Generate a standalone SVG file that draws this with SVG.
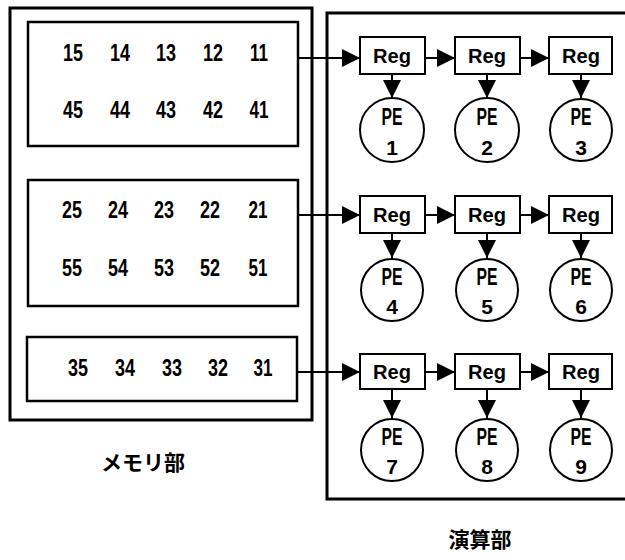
<svg xmlns="http://www.w3.org/2000/svg" width="625" height="560" viewBox="0 0 625 560">
<style>
.box{fill:none;stroke:#000;stroke-width:2.5}
.outer{fill:none;stroke:#000;stroke-width:3}
.reg{fill:#fff;stroke:#000;stroke-width:2}
.pe{fill:#fff;stroke:#000;stroke-width:2}
.num{font-family:"Liberation Sans",Arial,sans-serif;font-weight:bold;font-size:23px;text-anchor:middle}
.t{font-family:"Liberation Sans",Arial,sans-serif;font-weight:bold;font-size:21px;text-anchor:middle}
.p{font-family:"Liberation Sans",Arial,sans-serif;font-weight:bold;font-size:24px;text-anchor:middle}
.jp{font-family:"Noto Sans CJK JP",sans-serif;font-weight:bold;font-size:21px;text-anchor:middle}
.con{stroke:#000;stroke-width:2;fill:none;marker-end:url(#ah)}
</style>
<defs>
<marker id="ah" markerUnits="userSpaceOnUse" markerWidth="18" markerHeight="18" refX="18" refY="9" orient="auto">
<path d="M0,0 L18,9 L0,18 z" fill="#000"/>
</marker>
</defs>
<rect width="625" height="560" fill="#fff"/>

<g id="memory">
<rect class="outer" x="10" y="8" width="302" height="412"/>
<text class="jp" x="143" y="470">メモリ部</text>
</g>
<g id="mem1">
<rect class="box" x="28" y="22" width="270" height="124"/>
<g class="num">
<text x="73" y="61" textLength="20" lengthAdjust="spacingAndGlyphs">15</text><text x="120" y="61" textLength="20" lengthAdjust="spacingAndGlyphs">14</text><text x="166" y="61" textLength="20" lengthAdjust="spacingAndGlyphs">13</text><text x="213" y="61" textLength="20" lengthAdjust="spacingAndGlyphs">12</text><text x="259" y="61" textLength="18" lengthAdjust="spacingAndGlyphs">11</text>
<text x="73" y="118" textLength="20" lengthAdjust="spacingAndGlyphs">45</text><text x="120" y="118" textLength="20" lengthAdjust="spacingAndGlyphs">44</text><text x="166" y="118" textLength="20" lengthAdjust="spacingAndGlyphs">43</text><text x="213" y="118" textLength="20" lengthAdjust="spacingAndGlyphs">42</text><text x="259" y="118" textLength="19" lengthAdjust="spacingAndGlyphs">41</text>
</g>
</g>
<g id="mem2">
<rect class="box" x="28" y="180" width="270" height="126"/>
<g class="num">
<text x="72" y="218" textLength="20" lengthAdjust="spacingAndGlyphs">25</text><text x="118" y="218" textLength="20" lengthAdjust="spacingAndGlyphs">24</text><text x="164" y="218" textLength="20" lengthAdjust="spacingAndGlyphs">23</text><text x="210" y="218" textLength="20" lengthAdjust="spacingAndGlyphs">22</text><text x="258" y="218" textLength="19" lengthAdjust="spacingAndGlyphs">21</text>
<text x="72" y="276" textLength="20" lengthAdjust="spacingAndGlyphs">55</text><text x="118" y="276" textLength="20" lengthAdjust="spacingAndGlyphs">54</text><text x="164" y="276" textLength="20" lengthAdjust="spacingAndGlyphs">53</text><text x="210" y="276" textLength="20" lengthAdjust="spacingAndGlyphs">52</text><text x="258" y="276" textLength="19" lengthAdjust="spacingAndGlyphs">51</text>
</g>
</g>
<g id="mem3">
<rect class="box" x="27" y="337" width="270" height="64"/>
<g class="num">
<text x="78" y="376" textLength="20" lengthAdjust="spacingAndGlyphs">35</text><text x="125" y="376" textLength="20" lengthAdjust="spacingAndGlyphs">34</text><text x="172" y="376" textLength="20" lengthAdjust="spacingAndGlyphs">33</text><text x="218" y="376" textLength="20" lengthAdjust="spacingAndGlyphs">32</text><text x="263" y="376" textLength="19" lengthAdjust="spacingAndGlyphs">31</text>
</g>
</g>

<g id="compute">
<path class="outer" d="M630,13 H327 V499 H630"/>
<text class="jp" x="480" y="547">演算部</text>
</g>

<g id="connectors">
<line class="con" x1="298" y1="58" x2="360" y2="58"/>
<line class="con" x1="425" y1="58" x2="455" y2="58"/>
<line class="con" x1="520" y1="58" x2="549" y2="58"/>
<line class="con" x1="392" y1="74" x2="392" y2="98"/>
<line class="con" x1="487" y1="74" x2="487" y2="98"/>
<line class="con" x1="581" y1="74" x2="581" y2="98"/>

<line class="con" x1="298" y1="215" x2="360" y2="215"/>
<line class="con" x1="425" y1="215" x2="455" y2="215"/>
<line class="con" x1="520" y1="215" x2="549" y2="215"/>
<line class="con" x1="392" y1="233" x2="392" y2="258"/>
<line class="con" x1="487" y1="233" x2="487" y2="258"/>
<line class="con" x1="581" y1="233" x2="581" y2="258"/>

<line class="con" x1="297" y1="372" x2="360" y2="372"/>
<line class="con" x1="425" y1="372" x2="455" y2="372"/>
<line class="con" x1="520" y1="372" x2="549" y2="372"/>
<line class="con" x1="392" y1="389" x2="392" y2="418"/>
<line class="con" x1="487" y1="389" x2="487" y2="418"/>
<line class="con" x1="581" y1="389" x2="581" y2="418"/>
</g>

<g id="reg1"><rect class="reg" x="360" y="37" width="65" height="37"/><text class="t" x="392" y="63" textLength="38" lengthAdjust="spacingAndGlyphs">Reg</text></g>
<g id="reg2"><rect class="reg" x="455" y="37" width="65" height="37"/><text class="t" x="487" y="63" textLength="38" lengthAdjust="spacingAndGlyphs">Reg</text></g>
<g id="reg3"><rect class="reg" x="549" y="37" width="63" height="37"/><text class="t" x="581" y="63" textLength="38" lengthAdjust="spacingAndGlyphs">Reg</text></g>
<g id="pe1"><circle class="pe" cx="392" cy="130" r="32"/><text class="p" x="392" y="125" textLength="21" lengthAdjust="spacingAndGlyphs">PE</text><text class="t" x="392" y="155">1</text></g>
<g id="pe2"><circle class="pe" cx="487" cy="130" r="32"/><text class="p" x="487" y="125" textLength="21" lengthAdjust="spacingAndGlyphs">PE</text><text class="t" x="487" y="155">2</text></g>
<g id="pe3"><circle class="pe" cx="581" cy="130" r="31"/><text class="p" x="581" y="125" textLength="21" lengthAdjust="spacingAndGlyphs">PE</text><text class="t" x="581" y="155">3</text></g>

<g id="reg4"><rect class="reg" x="360" y="196" width="65" height="37"/><text class="t" x="392" y="222" textLength="38" lengthAdjust="spacingAndGlyphs">Reg</text></g>
<g id="reg5"><rect class="reg" x="455" y="196" width="65" height="37"/><text class="t" x="487" y="222" textLength="38" lengthAdjust="spacingAndGlyphs">Reg</text></g>
<g id="reg6"><rect class="reg" x="549" y="196" width="63" height="37"/><text class="t" x="581" y="222" textLength="38" lengthAdjust="spacingAndGlyphs">Reg</text></g>
<g id="pe4"><circle class="pe" cx="392" cy="290" r="31"/><text class="p" x="392" y="285" textLength="21" lengthAdjust="spacingAndGlyphs">PE</text><text class="t" x="392" y="314">4</text></g>
<g id="pe5"><circle class="pe" cx="487" cy="290" r="31"/><text class="p" x="487" y="285" textLength="21" lengthAdjust="spacingAndGlyphs">PE</text><text class="t" x="487" y="314">5</text></g>
<g id="pe6"><circle class="pe" cx="581" cy="290" r="31"/><text class="p" x="581" y="285" textLength="21" lengthAdjust="spacingAndGlyphs">PE</text><text class="t" x="581" y="314">6</text></g>

<g id="reg7"><rect class="reg" x="360" y="354" width="65" height="35"/><text class="t" x="392" y="379" textLength="38" lengthAdjust="spacingAndGlyphs">Reg</text></g>
<g id="reg8"><rect class="reg" x="455" y="354" width="65" height="35"/><text class="t" x="487" y="379" textLength="38" lengthAdjust="spacingAndGlyphs">Reg</text></g>
<g id="reg9"><rect class="reg" x="549" y="354" width="63" height="35"/><text class="t" x="581" y="379" textLength="38" lengthAdjust="spacingAndGlyphs">Reg</text></g>
<g id="pe7"><circle class="pe" cx="392" cy="450" r="31"/><text class="p" x="392" y="445" textLength="21" lengthAdjust="spacingAndGlyphs">PE</text><text class="t" x="392" y="474">7</text></g>
<g id="pe8"><circle class="pe" cx="487" cy="450" r="31"/><text class="p" x="487" y="445" textLength="21" lengthAdjust="spacingAndGlyphs">PE</text><text class="t" x="487" y="474">8</text></g>
<g id="pe9"><circle class="pe" cx="581" cy="450" r="31"/><text class="p" x="581" y="445" textLength="21" lengthAdjust="spacingAndGlyphs">PE</text><text class="t" x="581" y="474">9</text></g>
</svg>
